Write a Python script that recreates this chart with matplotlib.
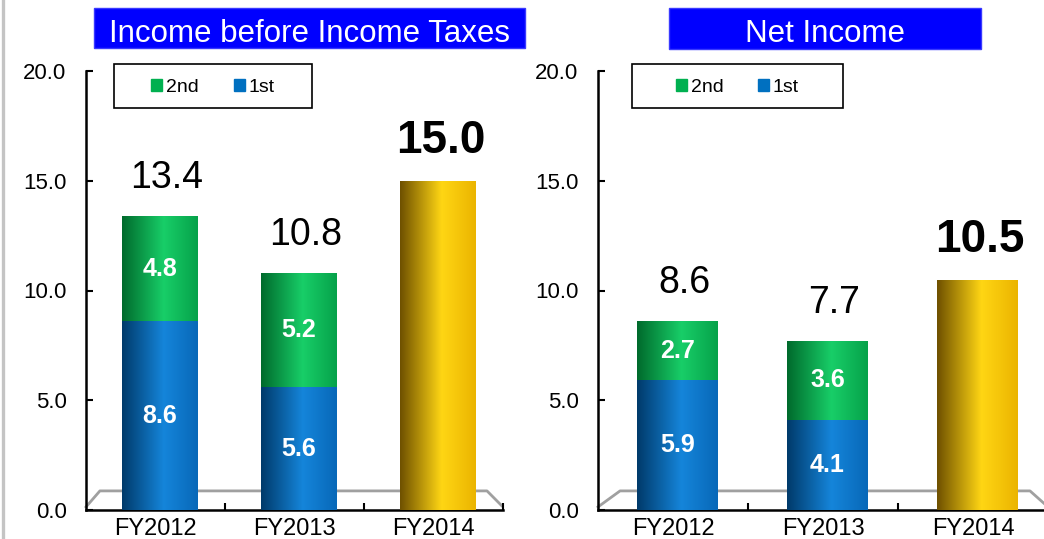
import numpy as np
import matplotlib
matplotlib.use('Agg')
import matplotlib.pyplot as plt
import matplotlib.colors as mcolors
from matplotlib.patches import Rectangle, Patch
from matplotlib.lines import Line2D

plt.rcParams['font.family'] = ['Liberation Sans', 'DejaVu Sans']

# datos (miles de millones)
years = ['FY2012', 'FY2013', 'FY2014']
pretax_1st = [8.6, 5.6]
pretax_2nd = [4.8, 5.2]
pretax_fy2014 = 15.0
net_1st = [5.9, 4.1]
net_2nd = [2.7, 3.6]
net_fy2014 = 10.5

# degradados tipo cilindro (posicion, color)
GRAD_BLUE = ([0, 0.55, 1], ['#003A6A', '#1585DA', '#0868B8'])
GRAD_GREEN = ([0, 0.55, 1], ['#006A2C', '#18CE68', '#06A24A'])
GRAD_GOLD = ([0, 0.55, 1], ['#6E5000', '#FFD614', '#EBB400'])

W, H = 1044, 539


def sombrear(ax, barra, grad):
    pos, cols = grad
    t = np.linspace(0, 1, 200)
    rgb = np.array([mcolors.to_rgb(c) for c in cols])
    img = np.stack([np.interp(t, pos, rgb[:, i]) for i in range(3)], axis=-1)
    x0, y0 = barra.get_x(), barra.get_y()
    im = ax.imshow(img[None, :, :], extent=[x0, x0 + barra.get_width(), y0, y0 + barra.get_height()],
                   aspect='auto', interpolation='bilinear', zorder=barra.get_zorder() + 0.1)
    im.set_clip_path(barra)


def Fn_panel(ax, primero, segundo, prevision, titulo, caja_titulo, caja_leyenda, piso):
    x = np.arange(len(years))
    xb = x + 0.03  # barras un poco desplazadas por la perspectiva
    ancho = 0.54

    # piso gris del grafico 3D
    ax.plot(piso[0], piso[1], color='#A0A0A0', lw=2, zorder=1, clip_on=False)

    b1 = ax.bar(xb[:2], primero, ancho, color='#0070C0', zorder=3)
    b2 = ax.bar(xb[:2], segundo, ancho, bottom=primero, color='#00B050', zorder=3)
    b3 = ax.bar(xb[2], prevision, ancho, color='#FFC000', zorder=3)
    for b in b1:
        sombrear(ax, b, GRAD_BLUE)
    for b in b2:
        sombrear(ax, b, GRAD_GREEN)
    sombrear(ax, b3[0], GRAD_GOLD)

    # etiquetas dentro de las barras
    for i in range(2):
        ax.text(xb[i], primero[i] / 2, f'{primero[i]:.1f}', ha='center', va='center',
                color='white', fontsize=18, fontweight='bold', zorder=5)
        ax.text(xb[i], primero[i] + segundo[i] / 2, f'{segundo[i]:.1f}', ha='center', va='center',
                color='white', fontsize=18, fontweight='bold', zorder=5)
        total = primero[i] + segundo[i]
        ax.annotate(f'{total:.1f}', (xb[i], total), xytext=(5, 20), textcoords='offset points',
                    ha='center', va='baseline', fontsize=27, zorder=5)
    ax.annotate(f'{prevision:.1f}', (xb[2], prevision), xytext=(2, 20), textcoords='offset points',
                ha='center', va='baseline', fontsize=33, fontweight='bold', zorder=5)

    ax.set_xlim(-0.5, 2.5)
    ax.set_ylim(0, 20)
    ax.set_yticks([0, 5, 10, 15, 20])
    ax.set_yticklabels([f'{v:.1f}' for v in [0, 5, 10, 15, 20]])
    ax.set_xticks(x)
    ax.set_xticklabels(years)
    ax.set_xticks([0.5, 1.5, 2.5], minor=True)
    ax.tick_params(axis='y', direction='in', length=5, width=1.5, pad=14, labelsize=16)
    ax.tick_params(axis='x', which='major', length=0, pad=6, labelsize=17)
    ax.tick_params(axis='x', which='minor', direction='in', length=5, width=1.5)
    for s in ['top', 'right']:
        ax.spines[s].set_visible(False)
    for s in ['left', 'bottom']:
        ax.spines[s].set_linewidth(1.8)
    ax.set_facecolor('none')

    # titulo en caja azul
    fig = ax.figure
    x0, y0, x1, y1 = caja_titulo
    fig.add_artist(Rectangle((x0 / W, 1 - y1 / H), (x1 - x0) / W, (y1 - y0) / H,
                             transform=fig.transFigure, facecolor='#0000FF', edgecolor='#3A3AFF', lw=1))
    fig.text((x0 + x1) / 2 / W, 1 - 41.5 / H, titulo, ha='center', va='baseline',
             color='white', fontsize=22.5)

    # leyenda con marco
    x0, y0, x1, y1 = caja_leyenda
    fig.add_artist(Rectangle((x0 / W, 1 - y1 / H), (x1 - x0) / W, (y1 - y0) / H,
                             transform=fig.transFigure, facecolor='white', edgecolor='black', lw=1.2))
    manijas = [Patch(color='#00B050', label='2nd'), Patch(color='#0070C0', label='1st')]
    fig.legend(handles=manijas, loc='center', bbox_to_anchor=((x0 + x1) / 2 / W, 1 - (y0 + y1 + 3) / 2 / H),
               ncol=2, frameon=False, fontsize=14, handlelength=0.55, handleheight=0.55,
               handletextpad=0.2, columnspacing=1.8)


def Main():
    fig = plt.figure(figsize=(W / 100, H / 100), dpi=100)

    # linea gris del borde izquierdo
    fig.add_artist(Line2D([2.5 / W, 2.5 / W], [0, 1], transform=fig.transFigure, color='#C4C4C4', lw=2.4))

    ax1 = fig.add_axes([86 / W, 1 - 510 / H, (503 - 86) / W, (510 - 71) / H])
    Fn_panel(ax1, pretax_1st, pretax_2nd, pretax_fy2014, 'Income before Income Taxes',
             (94, 8, 525, 48), (114, 64, 312, 108),
             ([-0.5, -0.4, 2.385, 2.49], [0.14, 0.87, 0.87, 0.2]))

    ax2 = fig.add_axes([598 / W, 1 - 510 / H, (1048 - 598) / W, (510 - 71) / H])
    Fn_panel(ax2, net_1st, net_2nd, net_fy2014, 'Net Income',
             (669, 8, 981, 49), (632, 64, 843, 108),
             ([-0.5, -0.353, 2.38, 2.5], [0.14, 0.87, 0.87, 0.14]))

    fig.savefig('out.png', dpi=100)


if __name__ == '__main__':
    Main()
